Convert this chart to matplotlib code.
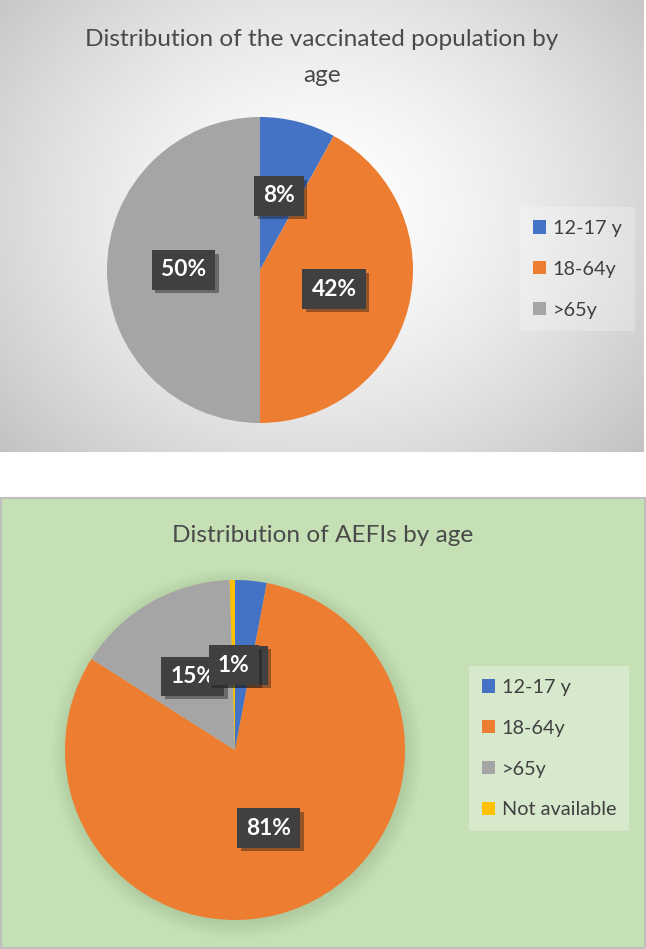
import numpy as np
import matplotlib
matplotlib.use("Agg")
import matplotlib.pyplot as plt
from matplotlib.patches import Rectangle, Circle
import matplotlib.patheffects as pe

plt.rcParams['font.family'] = ['Lato', 'DejaVu Sans']

# data
age_groups_top = ['12-17 y', '18-64y', '>65y']
share_vaccinated = [8, 42, 50]
labels_top = ['8%', '42%', '50%']

age_groups_bottom = ['12-17 y', '18-64y', '>65y', 'Not available']
share_aefi = [3, 81, 15.5, 0.5]
labels_bottom = ['3%', '81%', '15%', '1%']

colors = ['#4472C4', '#ED7D31', '#A5A5A5', '#FFC000']

W, H = 646, 949
fig = plt.figure(figsize=(W / 100, H / 100), dpi=100)
fig.patch.set_facecolor('white')

def frac(x0, y0, x1, y1):
    # pixel box (top-left origin) -> figure fraction rect
    return [x0 / W, 1 - y1 / H, (x1 - x0) / W, (y1 - y0) / H]

# backgrounds
bg = fig.add_axes([0, 0, 1, 1], zorder=-10)
bg.axis('off')

yy, xx = np.mgrid[0:452, 0:644]
d = np.hypot((xx - 320) / 1.0, (yy - 210) / 0.85) / 430
shade = 1 - 0.24 * np.clip(d, 0, 1.2) ** 1.5
bg.imshow(np.dstack([shade] * 3), extent=(0, 644, 452, 0), aspect='auto',
          interpolation='bilinear')
bg.set_xlim(0, W)
bg.set_ylim(H, 0)
bg.add_patch(Rectangle((0.5, 497.5), 644.5, 450.5, facecolor='#C5E0B4',
                       edgecolor='#BFBFBF', lw=1.5))

title_kw = dict(ha='center', va='center', color='#4a4a4a', fontsize=17.6)
fig.text(322 / W, 1 - 40 / H, 'Distribution of the vaccinated population by', **title_kw)
fig.text(322 / W, 1 - 76 / H, 'age', **title_kw)
fig.text(323 / W, 1 - 535 / H, 'Distribution of AEFIs by age', **title_kw)


def draw_pie(rect, values, texts, glow=None):
    ax = fig.add_axes(rect)
    if glow is not None:
        for i in range(10):
            ax.add_patch(Circle((0.01, -0.02), 1 + 0.01 * i, color=glow,
                                alpha=0.025, lw=0, clip_on=False, zorder=0))
    wedges, _ = ax.pie(values, colors=colors[:len(values)], startangle=90,
                       counterclock=False, radius=1,
                       wedgeprops=dict(linewidth=0))
    ax.set_xlim(-1, 1)
    ax.set_ylim(-1, 1)
    for w, s in zip(wedges, texts):
        ang = np.deg2rad((w.theta1 + w.theta2) / 2)
        t = ax.text(0.5 * np.cos(ang), 0.5 * np.sin(ang), s, ha='center',
                    va='center', color='white', fontsize=16.4, fontweight='bold',
                    bbox=dict(boxstyle='square,pad=0.4', fc='#404040', ec='none'),
                    zorder=5)
        t.get_bbox_patch().set_path_effects(
            [pe.SimplePatchShadow(offset=(2.5, -2.5), alpha=0.4), pe.Normal()])
    return ax, wedges


ax1, w1 = draw_pie(frac(107, 117, 413, 423), share_vaccinated, labels_top)
ax2, w2 = draw_pie(frac(65, 580, 405, 920), share_aefi, labels_bottom, glow='#6f8f5f')

leg_kw = dict(loc='upper left', frameon=True, fancybox=False, fontsize=14.3,
              handlelength=0.65, handleheight=0.65, handletextpad=0.35,
              labelspacing=1.2, borderpad=0.65, borderaxespad=0,
              labelcolor='#404040', facecolor='white', edgecolor='none')
leg1 = fig.legend(w1, age_groups_top, bbox_to_anchor=(520 / W, 1 - 207 / H),
                  framealpha=0.25, **leg_kw)
leg2 = fig.legend(w2, age_groups_bottom, bbox_to_anchor=(469 / W, 1 - 666 / H),
                  framealpha=0.32, **leg_kw)

fig.savefig('out.png', dpi=100)
